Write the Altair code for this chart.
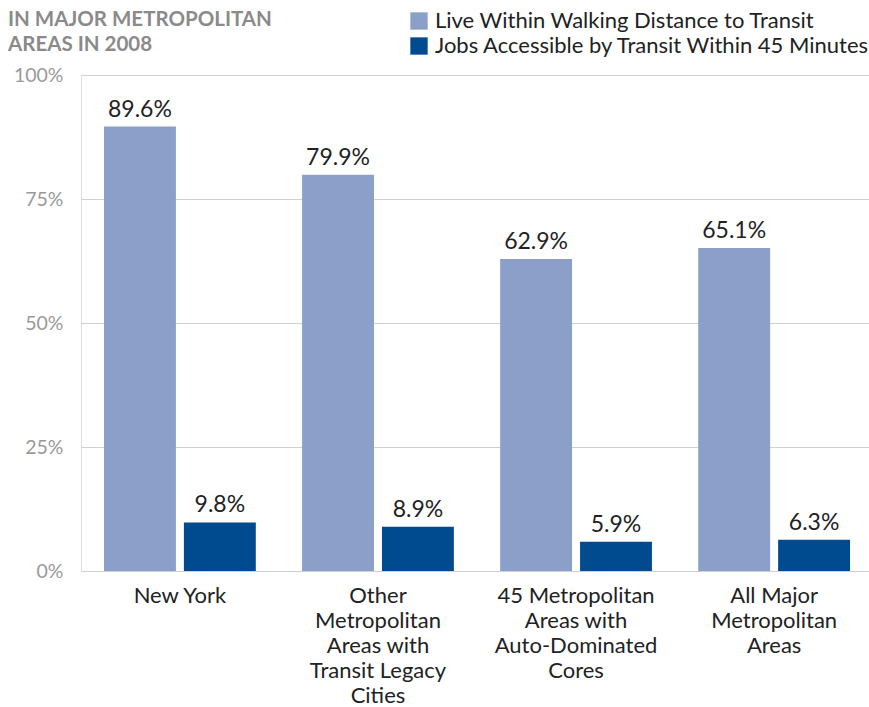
import altair as alt
import pandas as pd

# Share of residents / jobs reached by transit, by metro group (2008)
categories = [
    "New York",
    "Other|Metropolitan|Areas with|Transit Legacy|Cities",
    "45 Metropolitan|Areas with|Auto-Dominated|Cores",
    "All Major|Metropolitan|Areas",
]
series_names = [
    "Live Within Walking Distance to Transit",
    "Jobs Accessible by Transit Within 45 Minutes",
]
live_walking = [89.6, 79.9, 62.9, 65.1]
jobs_45min = [9.8, 8.9, 5.9, 6.3]
series_colors = ["#8b9fc8", "#004a8f"]
y_ticks = [0, 25, 50, 75, 100]

rows = []
for cat, a, b in zip(categories, live_walking, jobs_45min):
    rows.append({"category": cat, "series": series_names[0], "value": a})
    rows.append({"category": cat, "series": series_names[1], "value": b})
df = pd.DataFrame(rows)

FONT = "Lato"

x_enc = alt.X(
    "category:N",
    sort=categories,
    scale=alt.Scale(paddingInner=0.2336, paddingOuter=0.1059, align=0.548),
    axis=alt.Axis(
        title=None,
        labelExpr="split(datum.label, '|')",
        labelAngle=0,
        labelFont=FONT,
        labelFontSize=22,
        labelColor="#222222",
        labelLineHeight=25,
        labelPadding=14,
        ticks=False,
        domain=False,
        labelLimit=300,
    ),
)
xoff_enc = alt.XOffset(
    "series:N", sort=series_names, scale=alt.Scale(paddingInner=0.1, paddingOuter=0)
)
y_enc = alt.Y(
    "value:Q",
    scale=alt.Scale(domain=[0, 100], nice=False),
    axis=alt.Axis(
        title=None,
        values=y_ticks,
        labelExpr="datum.value + '%'",
        labelFont=FONT,
        labelFontSize=19.5,
        labelColor="#999999",
        labelPadding=18,
        ticks=False,
        domain=False,
        grid=True,
        gridColor="#d0d0d0",
        gridWidth=1,
    ),
)

base = alt.Chart(df).encode(x=x_enc, xOffset=xoff_enc)

bars = base.mark_bar().encode(
    y=y_enc,
    color=alt.Color(
        "series:N",
        sort=series_names,
        scale=alt.Scale(domain=series_names, range=series_colors),
        legend=alt.Legend(
            title=None,
            orient="none",
            legendX=327,
            legendY=-65,
            symbolType="square",
            symbolSize=300,
            symbolStrokeWidth=0,
            symbolOpacity=1,
            labelFont=FONT,
            labelFontSize=22,
            labelColor="#222222",
            rowPadding=3,
            labelOffset=5,
            labelLimit=600,
        ),
    ),
)

labels = base.transform_calculate(
    label="format(datum.value, '.1f') + '%'"
).mark_text(
    baseline="alphabetic", dy=-10, font=FONT, fontSize=23, color="#222222"
).encode(y="value:Q", text="label:N")

heading = alt.Chart(pd.DataFrame({"t": [0]})).mark_text(
    align="left",
    baseline="alphabetic",
    font=FONT,
    fontSize=20.5,
    fontWeight="bold",
    color="#8a8a8a",
    lineHeight=25,
).encode(
    x=alt.value(-73),
    y=alt.value(-49),
    text=alt.value(["IN MAJOR METROPOLITAN", "AREAS IN 2008"]),
)

chart = (
    alt.layer(bars, labels, heading)
    .properties(
        width=788,
        height=496,
        autosize=alt.AutoSizeParams(type="none"),
        padding={"left": 81, "top": 75, "right": 0, "bottom": 136},
    )
    .configure_view(stroke=None)
    .configure(background="white")
)

chart.save("out.html", embed_options={"renderer": "svg", "actions": False})
